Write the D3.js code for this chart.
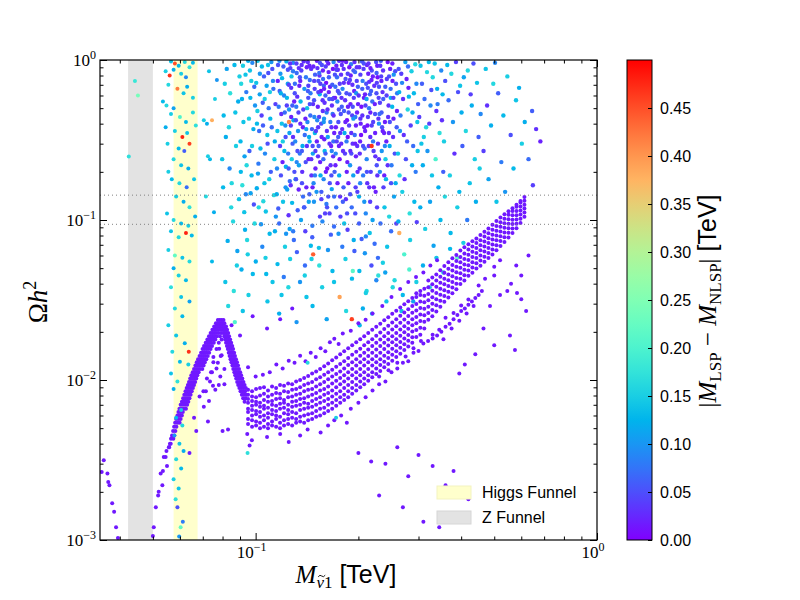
<!DOCTYPE html>
<html lang="en">
<head>
<meta charset="UTF-8">
<title>Relic density scan</title>
<script src="https://d3js.org/d3.v7.min.js"></script>
<style>
    html, body { margin: 0; padding: 0; background: #fff; }
    svg { display: block; }
    .serif { font-family: "Liberation Serif", "DejaVu Serif", serif; }
    .sans { font-family: "Liberation Sans", Arial, sans-serif; }
</style>
</head>
<body>
<svg id="chart" width="800" height="600"></svg>
<script>
// funnel regions and relic density band, TeV / Omega h^2
const zFunnel = [0.0423, 0.05];
const higgsFunnel = [0.0575, 0.0676];
const relicBounds = [0.094, 0.143];

const xDecades = [0.1, 1];
const yDecades = [0.001, 0.01, 0.1, 1];
const cTicks = [0, 0.05, 0.1, 0.15, 0.2, 0.25, 0.3, 0.35, 0.4, 0.45];
const cMax = 0.5;

// mass splitting of the purple annihilation band (nearly degenerate)
const bandSplit = 0.015;

// hump near the Higgs funnel: [Omega h^2, M, M, ...] read row by row
const humpRows = [
    [.0237,.0775,.0785,.0795,.0805],
    [.0226,.0765,.0774,.0783,.0792,.0801,.081],
    [.0216,.0756,.0765,.0774,.0783,.0792,.0801,.081,.0819],
    [.0206,.0747,.0756,.0765,.0774,.0786,.0798,.0807,.0816,.0825],
    [.0197,.0738,.0747,.0756,.0765,.0777,.0792,.0804,.0813,.0822,.0831],
    [.0188,.073,.0739,.0748,.0757,.077,.0786,.0809,.0818,.0827,.0836],
    [.0179,.0722,.0731,.074,.0749,.0762,.0795,.0814,.0823,.0832,.0842],
    [.0171,.0714,.0723,.0732,.0741,.0754,.078,.0819,.0829,.0838,.0848],
    [.0163,.0706,.0715,.0724,.0733,.0745,.0824,.0834,.0844,.0854],
    [.0156,.0699,.0708,.0717,.0726,.0738,.0768,.0829,.0839,.0849,.0859],
    [.0148,.0692,.0701,.071,.0719,.0731,.0834,.0844,.0854,.0865],
    [.0141,.0685,.0694,.0703,.0712,.0724,.079,.0839,.0849,.086,.087],
    [.0135,.0678,.0687,.0696,.0705,.0717,.0844,.0855,.0866,.0876],
    [.0129,.0672,.0681,.069,.0699,.071,.0752,.0849,.086,.0871,.0882],
    [.0123,.0666,.0675,.0684,.0693,.0704,.0855,.0866,.0877,.0888],
    [.0117,.066,.0669,.0678,.0687,.0698,.081,.086,.0871,.0882,.0894],
    [.0112,.0654,.0663,.0672,.0681,.074,.0866,.0877,.0889,.0901],
    [.0107,.0648,.0657,.0666,.0675,.0871,.0883,.0895,.0907],
    [.0102,.0643,.0652,.0661,.067,.072,.0877,.0889,.0901,.0914],
    [.0097,.0638,.0647,.0656,.0665,.0883,.0895,.0908,.0921],
    [.0093,.0633,.0642,.0651,.066,.078,.0889,.0902,.0915,.0928],
    [.0089,.0628,.0637,.0646,.0655,.0896,.0909,.0922,.0936],
    [.0085,.0623,.0632,.0641,.065,.0703,.0903,.0917,.0931],
    [.0081,.0618,.0627,.0636,.0645,.0911,.0925,.0939],
    [.0077,.0613,.0622,.0631,.064,.0919,.0934],
    [.0073,.0608,.0617,.0626,.0635,.0928],
    [.007,.0603,.0612,.0621,.063],
    [.0066,.0598,.0607,.0616,.0625],
    [.0063,.0594,.0603,.0612],
    [.006,.059,.0599,.0608],
    [.0057,.0585,.0594,.0603],
    [.0054,.0581,.059,.0599],
    [.0051,.0577,.0586],
    [.0048,.0573,.0582],
    [.0045,.0569,.0578],
    [.0043,.0565,.0574],
    [.004,.0561],
    [.0038,.0557]
];

// main annihilation band: [M, Omega h^2, Omega h^2, ...] read column by column
const bandColumns = [
    [.095,.0053,.0057,.0063,.0066,.0072,.0076,.0081,.0087],
    [.0976,.0051,.0056,.006,.0065,.0069,.0074,.0079,.0085],
    [.1003,.0052,.0055,.0061,.0064,.007,.0073,.0078,.0088],
    [.103,.005,.0054,.0059,.0063,.0068,.0072,.008,.0089],
    [.1058,.0051,.0056,.006,.0066,.0069,.0075,.0082,.009],
    [.1087,.005,.0053,.0058,.0062,.0067,.0073,.0079,.0086],
    [.1117,.0052,.0055,.0061,.0065,.007,.0074,.0081,.0091],
    [.1148,.0051,.0057,.006,.0064,.0069,.0076,.0083,.0089],
    [.1179,.005,.0054,.0059,.0066,.0071,.0077,.0082,.0093],
    [.1211,.0052,.0056,.0062,.0067,.0072,.0075,.0085,.0092],
    [.1245,.0053,.0057,.0061,.0065,.007,.0078,.0084,.0095],
    [.1279,.0052,.0058,.0063,.0068,.0073,.0079,.0087,.0094],
    [.1314,.0054,.0057,.0062,.0069,.0074,.0081,.0088,.0098],
    [.135,.0055,.0059,.0065,.007,.0076,.0082,.009,.01],
    [.1387,.0054,.006,.0066,.0072,.0077,.0085,.0093,.0103],
    [.1425,.0056,.0061,.0067,.0071,.0079,.0087,.0095,.0106],
    [.1464,.0057,.0062,.0068,.0074,.0081,.0088,.0097,.011],
    [.1504,.0059,.0064,.007,.0076,.0083,.0091,.0101,.0113],
    [.1545,.006,.0066,.0072,.0078,.0086,.0094,.0104,.0117],
    [.1588,.0062,.0067,.0074,.0081,.0088,.0097,.0108,.0122],
    [.1631,.0064,.007,.0076,.0083,.0091,.0101,.0112,.0127],
    [.1676,.0066,.0072,.0079,.0086,.0095,.0105,.0116,.0133],
    [.1722,.0069,.0075,.0082,.009,.0099,.0109,.0121,.0138],
    [.1769,.0072,.0078,.0085,.0094,.0103,.0113,.0126,.0145],
    [.1817,.0075,.0081,.0089,.0098,.0107,.0118,.0131,.0151],
    [.1867,.0078,.0085,.0093,.0102,.0112,.0124,.0137,.0158],
    [.1918,.0082,.0089,.0097,.0107,.0117,.0129,.0144,.0165],
    [.1971,.0086,.0093,.0102,.0112,.0123,.0135,.015,.0172],
    [.2025,.009,.0098,.0107,.0117,.0129,.0142,.0157,.018],
    [.208,.0094,.0102,.0112,.0123,.0135,.0148,.0165,.0188],
    [.2137,.0099,.0107,.0117,.0129,.0141,.0155,.0172,.0197],
    [.2196,.0104,.0112,.0123,.0135,.0148,.0163,.018,.0206],
    [.2256,.0109,.0118,.0129,.0141,.0155,.0171,.0189,.0215],
    [.2318,.0114,.0124,.0135,.0148,.0163,.0179,.0198,.0225],
    [.2381,.012,.013,.0142,.0156,.0171,.0188,.0208,.0236],
    [.2446,.0126,.0137,.0149,.0164,.0179,.0197,.0218,.0247],
    [.2513,.0132,.0144,.0157,.0172,.0188,.0207,.0229,.0259],
    [.2582,.0139,.0151,.0165,.018,.0197,.0217,.024,.0271],
    [.2653,.0146,.0159,.0173,.0189,.0207,.0228,.0252,.0284],
    [.2726,.0154,.0167,.0182,.0199,.0217,.0239,.0264,.0297],
    [.28,.0162,.0176,.0191,.0209,.0228,.0251,.0277,.0311],
    [.2877,.0171,.0185,.0201,.022,.024,.0263,.029,.0325],
    [.2956,.0186,.0205,.0226,.0248,.0272,.0299,.033,.0349],
    [.3037,.0192,.0212,.0234,.0257,.0282,.031,.034,.036],
    [.312,.021,.0231,.0254,.0279,.0306,.0336,.0372],
    [.3205,.0238,.0262,.0287,.0315,.0345,.038,.0418],
    [.3293,.025,.0274,.03,.0329,.0361,.0396,.0437],
    [.3383,.0268,.0293,.032,.035,.0382,.0418,.0457],
    [.3476,.0287,.0313,.0341,.0372,.0405,.0442,.0485],
    [.3571,.0308,.0335,.0364,.0396,.043,.0468,.0515],
    [.3669,.0328,.0356,.0387,.042,.0456,.0495,.0545],
    [.377,.0348,.0378,.041,.0445,.0483,.0524,.0576],
    [.3873,.0369,.04,.0434,.0471,.0511,.0554,.0605],
    [.3979,.0398,.043,.0465,.0503,.0544,.0588,.0645],
    [.4088,.0418,.0452,.0488,.0528,.0571,.0617,.0675],
    [.42,.0448,.0483,.0521,.0562,.0606,.0653,.0705],
    [.4315,.0468,.0505,.0545,.0588,.0634,.0683,.0737],
    [.4433,.0498,.0537,.0578,.0622,.0669,.0719,.0766],
    [.4555,.0518,.0558,.0601,.0647,.0696,.0748,.0805],
    [.468,.0548,.059,.0635,.0683,.0734,.0788,.0845],
    [.4808,.0578,.0622,.0669,.0718,.077,.0826,.0885],
    [.494,.0608,.0654,.0703,.0755,.081,.0868,.0935],
    [.5075,.0648,.0696,.0747,.0801,.0858,.0918,.0985],
    [.5214,.0688,.0738,.0791,.0847,.0906,.0968,.1035],
    [.5357,.0728,.078,.0835,.0893,.0954,.1018,.1085],
    [.5504,.0778,.0832,.0889,.0949,.1012,.1078,.1135],
    [.5655,.0828,.0884,.0943,.1005,.107,.1138,.1185],
    [.581,.0888,.0946,.1007,.1071,.1138,.1208,.1245],
    [.5969,.0958,.1018,.1081,.1147,.1216,.1288,.1315],
    [.613,.1048,.1112,.1178,.1247,.1318,.1392]
];

// sparse nearly degenerate points around the band: [M, Omega h^2]
const bandScatter = [
    [.0518,.0019],[.0527,.0026],[.0533,.0022],[.0545,.0033],[.055,.0029],[.0558,.0038],[.0564,.004],[.0538,.0033],
    [.0535,.0027],[.052,.002],[.051,.0016],[.0503,.0012],[.05,.00106],[.0548,.0036],[.0571,.0044],
    [.0715,.0085],[.075,.0092],[.081,.0094],[.0685,.0079],[.0705,.0068],[.073,.0074],[.066,.0058],[.067,.0048],
    [.0725,.0055],[.08,.0048],[.083,.0049],[.0945,.0046],[.0975,.0042],[.064,.0035],[.096,.0039],[.0745,.0112],
    [.0775,.0128],[.0735,.0098],[.0788,.0105],[.0762,.0087],[.0795,.0143],[.0752,.0139],[.0782,.0157],[.0768,.0118],
    [.108,.0044],[.118,.0046],[.125,.0041],[.135,.0045],[.142,.0049],[.155,.0047],[.163,.0052],[.17,.0056],
    [.178,.006],[.185,.0054],[.19,.0066],[.2,.0072],[.21,.0078],[.22,.0086],[.23,.0094],[.24,.0098],
    [.25,.0112],[.26,.0118],[.27,.0128],[.28,.0131],[.29,.0148],[.3,.0152],[.31,.0169],[.33,.0192],[.345,.0206],
    [.36,.0245],[.38,.0262],[.4,.0292],[.42,.0318],[.45,.039],[.47,.043],[.5,.051],[.52,.056],[.2,.0035],
    [.218,.0031],[.24,.003],[.26,.0038],[.28,.0025],[.3,.0034],[.33,.0029],[.36,.0022],[.38,.0027],
    [.42,.0018],[.23,.0019],[.27,.0016],[.31,.0013],[.345,.0012],[.56,.04],[.58,.052],[.6,.045],[.63,.06],
    [.52,.034],[.5,.045],[.583,.035],[.62,.027],[.546,.036],[.486,.029],[.556,.019],[.575,.0154],[.465,.021],
    [.6,.032],[.5,.0165],[.44,.0145],[.41,.0125],[.395,.011],[.095,.012],[.1,.0105],[.105,.0108],[.11,.0112],
    [.115,.0125],[.12,.0118],[.125,.0132],[.13,.0128],[.135,.0142],[.14,.0131],[.145,.0148],[.15,.0139],[.155,.0158],
    [.16,.0151],[.165,.0172],[.17,.0181],[.175,.0168],[.18,.0195],[.19,.0203],[.2,.0226],[.21,.0238],[.085,.022],
    [.09,.019],[.098,.025],[.108,.021],[.118,.024],[.128,.028],[.0359,.00315],[.0354,.00266],[.0368,.0026],
    [.037,.0023],[.0373,.0022],[.038,.0017],[.0385,.0015],[.039,.0012],[.0395,.00103],
    [.32,.0175],[.33,.0182],[.34,.019],[.35,.02],[.36,.0215],[.37,.0225],[.38,.024],[.39,.0255],[.4,.027],
    [.41,.028],[.42,.0295],[.43,.031],[.44,.0325],[.45,.034],[.46,.036],[.355,.018],[.375,.021],[.395,.0235],
    [.415,.026],[.435,.029],[.22,.026],[.235,.029],[.25,.033],[.265,.037],[.28,.041],[.295,.044],[.31,.047],
    [.325,.052],[.34,.056],[.23,.0105],[.245,.0115],[.26,.0128],[.275,.014],[.29,.0158],[.305,.0175]
];

// [M, Omega h^2, |M_LSP - M_NLSP|] inside and around the Higgs funnel
const higgsPts = [
    [.0565,.98,.14],[.058,.95,.45],[.0595,.92,.13],[.062,.97,.16],[.0545,.85,.15],[.056,.8,.47],[.0575,.87,.12],
    [.0605,.82,.15],[.0625,.78,.09],[.064,.9,.17],[.0655,.96,.13],[.0555,.7,.16],[.059,.66,.42],[.0615,.62,.14],
    [.063,.68,.12],[.0655,.58,.15],[.0535,.55,.13],[.0548,.52,.16],[.0575,.5,.11],[.0565,.46,.15],[.06,.44,.2],
    [.0625,.41,.13],[.0655,.47,.16],[.0545,.38,.12],[.058,.36,.15],[.061,.33,.48],[.063,.35,.14],[.0668,.39,.17],
    [.0552,.3,.15],[.0595,.28,.13],[.0618,.27,.06],[.064,.3,.46],[.0575,.24,.16],[.0605,.22,.14],[.0635,.21,.12],
    [.0555,.2,.15],[.0568,.18,.13],[.0598,.17,.16],[.0628,.16,.07],[.066,.18,.14],[.0585,.14,.15],[.0615,.13,.12],
    [.064,.12,.17],[.055,.11,.14],[.0575,.1,.16],[.0605,.095,.13],[.0635,.092,.15],[.0665,.105,.12],[.0565,.085,.14],
    [.0595,.078,.16],[.0625,.083,.48],[.065,.08,.13],[.0555,.065,.15],[.058,.06,.22],[.061,.058,.14],[.064,.055,.16],
    [.0575,.05,.12],[.0595,.045,.15],[.0625,.042,.13],[.0565,.038,.17],[.0605,.033,.14],[.064,.031,.11],[.058,.028,.16],
    [.061,.025,.13],[.0555,.022,.15],[.0585,.019,.14],[.0637,.015,.47],[.062,.017,.12],[.057,.015,.16],[.06,.013,.13],
    [.0635,.0125,.15],[.0565,.011,.14],[.059,.0098,.17],[.0575,.0088,.12],[.0605,.0065,.15],[.0585,.0058,.13],
    [.061,.0052,.16],[.0578,.0045,.1],[.0598,.004,.14],[.0615,.0036,.12],[.0585,.0032,.16],[.0605,.0028,.13],
    [.0575,.0024,.15],[.0595,.0021,.14],[.0583,.0018,.17],[.059,.0016,.05],[.0603,.0012,.22],[.0597,.00105,.1],
    [.0612,.0013,.08],[.0425,.249,.17],[.0443,.74,.18],[.0452,.6,.24],[.0705,.42,.15],[.072,.4,.12],
    [.0745,.42,.38],[.0735,.24,.13],[.0725,.25,.15],[.0755,.112,.12],[.077,.75,.1],[.076,.57,.15],[.142,.0128,.16],
    [.172,.0058,.15],[.0947,.0035,.17],[.073,.85,.14],[.0715,.14,.16],[.0745,.055,.13]
];

// [M, Omega h^2, |M_LSP - M_NLSP|] in the upper cloud, left part
const cloudLeft = [
    [.0812,.71,.15],[.0867,.93,.13],[.0835,.38,.16],[.0889,.55,.12],[.0798,.24,.14],[.0851,.17,.16],[.0823,.88,.11],
    [.0876,.29,.15],[.0842,.62,.17],[.0806,.45,.13],[.0894,.135,.14],[.0859,.098,.16],[.0828,.074,.12],[.0881,.052,.15],
    [.0815,.041,.14],[.0863,.036,.17],[.0839,.21,.09],[.0872,.47,.14],[.0818,.33,.12],[.0897,.79,.15],[.0848,.12,.16],
    [.0803,.16,.13],[.0884,.064,.11],[.0831,.029,.16],[.0869,.023,.2],
    [.0934,.81,.14],[.0912,.57,.12],[.0978,.96,.09],[.0956,.43,.15],[.0903,.31,.13],[.0991,.68,.07],[.0941,.22,.16],
    [.0967,.147,.11],[.0918,.92,.15],[.0985,.37,.12],[.0926,.112,.14],[.0959,.27,.06],[.0907,.71,.16],[.0973,.19,.13],
    [.0948,.061,.15],[.0996,.52,.1],[.0931,.087,.12],[.0962,.86,.14],[.0914,.165,.17],[.0981,.046,.13],[.0939,.63,.08],
    [.0953,.034,.15],[.0921,.41,.14],[.0988,.125,.05],[.0944,.075,.16],[.0909,.049,.12],[.0976,.29,.15],[.0928,.25,.11],
    [.0965,.58,.13],[.0993,.095,.16],[.0917,.027,.14],[.0951,.99,.12],[.0936,.145,.09],[.0971,.74,.15],[.0905,.2,.13],
    [.1043,.91,.13],[.1127,.66,.07],[.1012,.48,.15],[.1089,.83,.05],[.1138,.31,.12],[.1065,.26,.09],[.1004,.72,.14],
    [.1112,.97,.1],[.1051,.39,.06],[.1096,.18,.15],[.1028,.61,.11],[.1143,.53,.04],[.1071,.113,.14],[.1019,.225,.08],
    [.1104,.43,.13],[.1058,.79,.06],[.1131,.143,.16],[.1037,.094,.1],[.1082,.34,.14],[.1008,.158,.12],[.1119,.88,.05],
    [.1063,.57,.15],[.1046,.068,.09],[.1099,.082,.13],[.1024,.36,.07],[.1135,.24,.15],[.1077,.69,.11],[.1014,.99,.14],
    [.1108,.2,.06],[.1053,.131,.16],[.1092,.5,.08],[.1033,.28,.13],[.1146,.105,.1],[.1069,.058,.15],[.1001,.055,.12],
    [.1124,.74,.09],[.1041,.45,.04],[.1087,.93,.14],[.1016,.195,.11],[.1115,.38,.07],[.1061,.17,.14],[.1029,.82,.1],
    [.1101,.63,.15],[.1074,.046,.13],[.1049,.54,.06],[.1139,.085,.12],[.1021,.12,.16],[.1084,.3,.05],[.1009,.4,.13],
    [.1121,.041,.14],
    [.1163,.93,.05],[.1242,.71,.11],[.1189,.46,.03],[.1287,.85,.08],[.1214,.27,.13],[.1176,.64,.06],[.1268,.39,.04],
    [.1231,.98,.12],[.1155,.21,.09],[.1297,.55,.02],[.1203,.13,.14],[.1259,.175,.07],[.1182,.82,.1],[.1224,.33,.05],
    [.1276,.24,.15],[.1168,.51,.08],[.1249,.107,.03],[.1195,.77,.13],[.1283,.3,.06],[.1211,.6,.09],[.1158,.36,.14],
    [.1264,.89,.04],[.1237,.155,.11],[.1172,.095,.07],[.1291,.42,.12],[.1219,.068,.15],[.1186,.19,.05],[.1253,.49,.1],
    [.1161,.74,.02],[.1279,.128,.13],[.1206,.91,.06],[.1245,.26,.08],[.1193,.4,.14],[.1271,.67,.03],[.1228,.082,.1],
    [.1153,.145,.12],[.1299,.2,.05],[.1217,.47,.07],[.1262,.057,.15],[.1179,.29,.04],[.1235,.58,.13],[.1288,.96,.09],
    [.1199,.23,.02],[.1256,.35,.11],[.1165,.118,.06],[.1274,.79,.14],[.1209,.044,.08],[.1243,.87,.05],[.1185,.62,.12],
    [.1267,.165,.03],[.1222,.39,.1],[.1159,.053,.13],[.1294,.075,.07],[.1201,.31,.15],[.1251,.7,.04],[.1174,.99,.09],
    [.1281,.52,.06],[.1226,.215,.12],[.1191,.034,.14],[.1258,.088,.11]
];

// upper cloud, dense centre
const cloudCentre = [
    [.1317,.95,.04],[.1448,.62,.08],[.1376,.38,.02],[.1493,.81,.06],[.1339,.22,.11],[.1422,.97,.03],[.1354,.55,.13],
    [.1469,.29,.05],[.1303,.71,.07],[.1408,.16,.02],[.1486,.44,.09],[.1361,.86,.04],[.1434,.33,.12],[.1328,.115,.06],
    [.1457,.19,.03],[.1389,.66,.1],[.1312,.42,.05],[.1476,.91,.02],[.1347,.26,.08],[.1415,.5,.14],[.1398,.085,.04],
    [.1441,.75,.07],[.1324,.59,.03],[.1482,.13,.1],[.1367,.17,.05],[.1429,.24,.02],[.1306,.31,.09],[.1462,.37,.06],
    [.1383,.98,.03],[.1451,.069,.13],[.1335,.47,.04],[.1404,.78,.08],[.1497,.21,.02],[.1358,.1,.11],[.1426,.58,.05],
    [.1319,.83,.07],[.1473,.53,.03],[.1372,.29,.12],[.1437,.145,.06],[.1343,.69,.02],[.1418,.41,.09],[.1489,.66,.04],
    [.1309,.18,.14],[.1395,.052,.07],[.1454,.88,.03],[.1331,.36,.1],[.1402,.23,.05],[.1466,.092,.08],[.1351,.74,.02],
    [.1431,.13,.11],[.1379,.49,.04],[.1321,.063,.06],[.1491,.35,.13],[.1364,.93,.03],[.1446,.45,.07],[.1326,.27,.05],
    [.1412,.9,.02],[.1478,.17,.09],[.1386,.12,.04],[.1439,.31,.12],[.1315,.51,.08],[.1458,.057,.15],[.1369,.2,.03],
    [.1423,.64,.06],[.1349,.041,.1],[.1484,.74,.04],[.1393,.34,.07],[.1337,.155,.02],[.1471,.26,.11],[.1409,.033,.14],
    [.1517,.89,.03],[.1643,.57,.06],[.1589,.32,.02],[.1692,.97,.09],[.1534,.44,.04],[.1621,.21,.01],[.1576,.76,.07],
    [.1668,.38,.03],[.1508,.15,.1],[.1652,.68,.02],[.1563,.93,.05],[.1614,.47,.08],[.1687,.25,.03],[.1541,.61,.12],
    [.1597,.11,.04],[.1636,.84,.02],[.1529,.29,.06],[.1673,.52,.03],[.1582,.18,.09],[.1609,.72,.01],[.1556,.4,.05],
    [.1698,.14,.07],[.1512,.99,.02],[.1627,.33,.11],[.1571,.56,.03],[.1661,.081,.06],[.1545,.23,.02],[.1604,.91,.04],
    [.1681,.46,.08],[.1538,.8,.03],[.1593,.27,.13],[.1649,.17,.05],[.1521,.51,.02],[.1677,.7,.06],[.1569,.098,.09],
    [.1617,.36,.03],[.1553,.64,.01],[.1689,.31,.07],[.1502,.36,.04],[.1632,.95,.02],[.1586,.43,.1],[.1658,.22,.03],
    [.1527,.74,.05],[.1612,.126,.08],[.1574,.86,.02],[.1695,.58,.04],[.1549,.19,.12],[.1601,.6,.06],[.1664,.29,.02],
    [.1532,.067,.14],[.1624,.49,.03],[.1579,.24,.07],[.1684,.88,.01],[.1515,.42,.09],[.1646,.11,.04],[.1561,.33,.02],
    [.1639,.78,.06],[.1592,.54,.03],[.1671,.156,.11],[.1543,.96,.05],[.1606,.2,.02],[.1655,.41,.08],[.1523,.25,.03],
    [.1584,.69,.06],[.1679,.048,.13],[.1558,.135,.04],[.1629,.065,.1],[.1566,.038,.15],[.1699,.35,.02],[.1536,.83,.07],
    [.1724,.92,.02],[.1887,.61,.05],[.1793,.37,.03],[.1956,.84,.07],[.1762,.24,.01],[.1918,.45,.04],[.1841,.97,.02],
    [.1735,.55,.09],[.1984,.29,.03],[.1809,.16,.06],[.1873,.72,.02],[.1747,.41,.05],[.1932,.19,.11],[.1779,.81,.03],
    [.1861,.33,.01],[.1712,.68,.07],[.1995,.53,.02],[.1827,.26,.04],[.1903,.94,.08],[.1768,.14,.03],[.1944,.64,.02],
    [.1815,.48,.06],[.1756,.99,.03],[.1891,.22,.1],[.1728,.31,.04],[.1967,.39,.02],[.1834,.76,.05],[.1785,.58,.03],
    [.1912,.12,.07],[.1741,.87,.02],[.1978,.74,.04],[.1852,.42,.01],[.1703,.2,.06],[.1924,.3,.03],[.1797,.66,.09],
    [.1869,.17,.02],[.1753,.49,.05],[.1948,.97,.03],[.1821,.35,.12],[.1772,.105,.04],[.1896,.53,.02],[.1731,.78,.07],
    [.1989,.2,.03],[.1846,.62,.05],[.1718,.38,.02],[.1935,.86,.06],[.1803,.27,.03],[.1881,.9,.01],[.1764,.71,.04],
    [.1959,.44,.08],[.1838,.135,.03],[.1709,.58,.02],[.1907,.26,.05],[.1789,.93,.03],[.1971,.62,.1],[.1856,.23,.02],
    [.1745,.33,.06],[.1921,.7,.03],[.1817,.095,.14],[.1878,.39,.04],[.1737,.17,.02],[.1951,.34,.07],[.1829,.56,.03],
    [.1776,.46,.05],[.1899,.8,.02],[.1716,.26,.09],[.1963,.16,.04],[.1864,.51,.02],[.1758,.62,.06],[.1938,.075,.12],
    [.1811,.88,.03],[.1892,.145,.05],[.1749,.082,.1],[.1982,.47,.02],[.1833,.057,.15],[.1781,.3,.03],[.1915,.043,.13],
    [.1722,.12,.07],[.1958,.11,.05],[.1859,.087,.04],
    [.2012,.9,.03],[.2178,.64,.06],[.2093,.36,.02],[.2254,.97,.05],[.2041,.51,.01],[.2216,.27,.04],[.2137,.82,.02],
    [.2065,.19,.08],[.2289,.43,.03],[.2108,.71,.05],[.2023,.31,.02],[.2197,.55,.07],[.2152,.16,.03],[.2276,.78,.01],
    [.2071,.88,.04],[.2239,.35,.02],[.2115,.24,.09],[.2004,.6,.03],[.2264,.22,.05],[.2168,.47,.02],[.2049,.98,.06],
    [.2226,.69,.03],[.2126,.39,.01],[.2081,.13,.1],[.2293,.58,.04],[.2031,.4,.02],[.2189,.86,.05],[.2145,.29,.03],
    [.2058,.74,.08],[.2247,.15,.02],[.2098,.52,.04],[.2017,.21,.03],[.2271,.92,.02],[.2162,.61,.06],[.2036,.34,.01],
    [.2209,.41,.04],[.2119,.93,.02],[.2086,.28,.07],[.2282,.3,.03],[.2131,.67,.05],[.2009,.14,.12],[.2234,.53,.02],
    [.2174,.2,.04],[.2054,.45,.03],[.2261,.83,.06],[.2102,.11,.09],[.2185,.75,.02],[.2027,.81,.04],[.2242,.25,.03],
    [.2149,.5,.08],[.2076,.58,.02],[.2298,.68,.05],[.2123,.17,.03],[.2201,.1,.11],[.2044,.076,.06],[.2268,.12,.04],
    [.2159,.083,.14],[.2089,.062,.1],[.2231,.071,.07],[.2013,.048,.13],[.2184,.052,.05],[.2114,.036,.16],[.2257,.042,.09],
    [.2061,.028,.12],[.2141,.95,.03]
];

// extra points in the densest part of the cloud
const cloudCore = [
    [.1234,.52,.04],[.1271,.44,.02],[.1302,.62,.05],[.1338,.89,.03],[.1366,.27,.06],[.1399,.43,.02],[.1427,.69,.04],
    [.1455,.24,.03],[.1483,.56,.05],[.1511,.31,.02],[.1547,.71,.04],[.1573,.48,.03],[.1602,.26,.06],[.1638,.63,.02],
    [.1667,.19,.05],[.1692,.45,.03],[.1726,.87,.04],[.1754,.29,.02],[.1788,.51,.06],[.1813,.72,.03],[.1849,.2,.02],
    [.1872,.47,.05],[.1906,.35,.03],[.1939,.58,.04],[.1967,.25,.02],[.1993,.68,.06],[.2027,.43,.03],[.2064,.29,.05],
    [.2091,.61,.02],[.2133,.44,.04],[.2167,.33,.03],[.2205,.79,.02],[.2238,.46,.05],[.2273,.19,.03],[.2312,.54,.04],
    [.2356,.36,.02],[.2398,.68,.06],[.2437,.22,.03],[.2472,.41,.05],[.2518,.74,.02],
    [.1249,.21,.06],[.1287,.33,.03],[.1313,.18,.05],[.1352,.4,.02],[.1377,.14,.07],[.1413,.29,.03],[.1441,.53,.05],
    [.1468,.16,.02],[.1497,.27,.04],[.1524,.38,.03],[.1558,.15,.06],[.1587,.66,.02],[.1619,.12,.05],[.1646,.3,.03],
    [.1679,.57,.04],[.1713,.22,.02],[.1741,.64,.05],[.1769,.35,.03],[.1801,.13,.06],[.1832,.41,.02],[.1861,.82,.04],
    [.1894,.27,.03],[.1925,.51,.05],[.1958,.3,.02],[.1986,.15,.04],[.2019,.26,.03],[.2053,.66,.06],[.2082,.38,.02],
    [.2118,.2,.05],[.2151,.73,.03],[.2188,.39,.04],[.2221,.16,.02],[.2259,.62,.05],[.2296,.24,.03],[.2338,.47,.06],
    [.2381,.19,.02],[.2419,.6,.04],[.2457,.35,.03],[.2493,.17,.05],[.2534,.43,.02],
    [.1224,.16,.1],[.1319,.23,.09],[.1407,.37,.11],[.1492,.19,.08],[.1583,.41,.1],[.1671,.27,.09],[.1757,.19,.12],
    [.1846,.31,.08],[.1933,.43,.1],[.2024,.17,.09],[.2113,.57,.11],[.2208,.31,.08],[.2297,.4,.1],[.2391,.29,.09],
    [.2488,.58,.12],[.1262,.95,.03],[.1348,.78,.05],[.1437,.92,.02],[.1526,.63,.04],[.1618,.99,.03],[.1707,.81,.05],
    [.1797,.99,.02],[.1889,.75,.04],[.1979,.9,.03],[.2074,.95,.05],[.2169,.89,.02],[.2265,.72,.04],[.2362,.86,.03],
    [.2459,.79,.05],[.1389,.12,.06],[.1543,.105,.04],[.1697,.091,.07],[.1853,.11,.05],[.2009,.095,.06],[.2165,.13,.04],
    [.2321,.095,.07],[.1288,.085,.08],[.1465,.078,.06],[.1632,.14,.05],[.1794,.068,.08],[.1947,.064,.06],[.2103,.079,.09],
    [.2282,.058,.07]
];

// upper cloud, sparser right part and lower fringe
const cloudRight = [
    [.2318,.92,.03],[.2486,.66,.07],[.2392,.41,.02],[.2563,.85,.05],[.2341,.27,.1],[.2527,.33,.03],[.2437,.97,.01],
    [.2365,.57,.06],[.2594,.48,.02],[.2409,.18,.13],[.2332,.79,.04],[.2501,.22,.08],[.2451,.52,.03],[.2578,.71,.05],
    [.2378,.35,.02],[.2543,.14,.11],[.2423,.76,.04],[.2306,.46,.07],[.2515,.95,.02],[.2469,.29,.12],[.2354,.63,.03],
    [.2589,.38,.06],[.2401,.24,.15],[.2532,.58,.04],[.2312,.2,.09],[.2478,.88,.02],[.2385,.12,.14],[.2556,.26,.05],
    [.2444,.44,.03],[.2327,.99,.06],[.2512,.51,.13],[.2369,.16,.04],[.2597,.62,.08],[.2415,.31,.02],[.2538,.81,.1],
    [.2461,.105,.16],[.2347,.38,.05],[.2571,.17,.12],[.2428,.068,.14],[.2494,.085,.07],[.2359,.054,.15],[.2583,.095,.04],
    [.2397,.047,.11],[.2521,.038,.16],[.2336,.74,.02],
    [.2624,.88,.05],[.2811,.59,.13],[.2716,.34,.03],[.2935,.94,.16],[.2657,.45,.08],[.2873,.22,.12],[.2768,.76,.02],
    [.2612,.26,.14],[.2992,.53,.06],[.2745,.97,.11],[.2846,.39,.04],[.2689,.15,.15],[.2958,.71,.09],[.2731,.18,.03],
    [.2634,.63,.12],[.2894,.29,.07],[.2789,.49,.16],[.2671,.82,.04],[.2917,.13,.13],[.2803,.67,.02],[.2648,.36,.1],
    [.2976,.41,.14],[.2755,.24,.05],[.2862,.85,.15],[.2703,.57,.03],[.2943,.2,.08],[.2826,.11,.17],[.2619,.098,.12],
    [.2778,.31,.06],[.2908,.62,.13],[.2685,.72,.09],[.2835,.075,.15],[.2965,.097,.04],[.2724,.061,.2],[.2881,.47,.12],
    [.2641,.19,.16],[.2795,.91,.07],[.2983,.27,.14],
    [.3042,.92,.14],[.3271,.65,.05],[.3158,.38,.16],[.3497,.86,.09],[.3089,.22,.12],[.3384,.48,.03],[.3216,.97,.13],
    [.3563,.31,.15],[.3124,.57,.07],[.3431,.16,.12],[.3302,.78,.16],[.3015,.44,.04],[.3529,.61,.13],[.3187,.27,.1],
    [.3346,.95,.14],[.3071,.71,.06],[.3458,.35,.17],[.3243,.13,.11],[.3592,.74,.05],[.3109,.33,.15],[.3412,.53,.08],
    [.3285,.19,.14],[.3036,.12,.12],[.3514,.42,.03],[.3177,.84,.16],[.3367,.24,.2],[.3253,.52,.09],[.3479,.1,.13],
    [.3138,.088,.15],[.3321,.069,.11],[.3545,.2,.06],[.3059,.3,.14],[.3402,.66,.12],[.3226,.4,.04],[.3584,.14,.16],
    [.3642,.93,.13],[.3917,.63,.05],[.4183,.86,.16],[.3785,.41,.1],[.4451,.72,.14],[.4034,.29,.06],[.3706,.19,.15],
    [.4297,.52,.12],[.3862,.97,.04],[.4128,.36,.16],[.4562,.46,.09],[.3951,.15,.13],[.3674,.56,.07],[.4385,.24,.15],
    [.4072,.78,.11],[.3823,.26,.03],[.4239,.17,.14],[.4498,.33,.06],[.3744,.82,.16],[.4011,.47,.12],[.4346,.95,.05],
    [.3898,.12,.15],[.4167,.1,.08],[.3725,.083,.13],[.4419,.13,.12],[.3972,.69,.14],[.4265,.61,.04],[.4532,.21,.15],
    [.4721,.88,.14],[.5134,.62,.06],[.4893,.39,.12],[.5462,.79,.15],[.4652,.27,.04],[.5318,.45,.13],[.5027,.96,.09],
    [.5791,.56,.14],[.4812,.18,.11],[.5587,.34,.05],[.6142,.41,.12],[.4967,.71,.16],[.5245,.23,.08],[.6455,.48,.06],
    [.5694,.21,.13],[.4765,.52,.03],[.6023,.3,.15],[.5381,.15,.1],[.6632,.37,.03],[.5912,.67,.12],[.6489,.165,.04],
    [.5076,.13,.14],[.6301,.24,.07],[.6825,.31,.02],
    [.1083,.031,.14],[.1172,.026,.12],[.1247,.038,.16],[.1318,.023,.1],[.1393,.045,.15],[.1468,.029,.13],[.1536,.052,.17],
    [.1615,.024,.11],[.1697,.041,.14],[.1762,.033,.39],[.1841,.027,.16],[.1926,.048,.21],[.2017,.022,.13],[.2103,.035,.15],
    [.2194,.026,.12],[.2287,.045,.17],[.2416,.031,.14],[.2553,.042,.16],[.2698,.034,.13],[.2819,.049,.2],[.2957,.041,.15],
    [.3092,.052,.12],[.3238,.038,.17],[.3386,.058,.14],[.3547,.047,.16],[.3712,.066,.13],[.3894,.058,.22],[.4061,.072,.15],
    [.2674,.027,.14],[.2895,.031,.11],[.1474,.061,.44],[.2187,.29,.47],[.1252,.41,.41],[.2635,.083,.38],[.1913,.024,.46]
];

// matplotlib "rainbow" colormap
function rainbow(t) {
    const r = Math.min(1, Math.abs(2 * t - 0.5));
    const g = Math.sin(Math.PI * t);
    const b = Math.cos(Math.PI * t / 2);
    return d3.rgb(r * 255, g * 255, b * 255).formatHex();
}

const svg = d3.select("#chart");
const plotLeft = 100, plotRight = 597, plotTop = 60, plotBottom = 540;

const x = d3.scaleLog().domain([0.035, 1]).range([plotLeft, plotRight]);
const y = d3.scaleLog().domain([0.001, 1]).range([plotBottom, plotTop]);
const color = d3.scaleSequential(rainbow).domain([0, cMax]);

svg.append("clipPath").attr("id", "plot-clip")
    .append("rect")
    .attr("x", plotLeft).attr("y", plotTop)
    .attr("width", plotRight - plotLeft).attr("height", plotBottom - plotTop);

const plot = svg.append("g").attr("clip-path", "url(#plot-clip)");

// funnel bands
plot.append("rect")
    .attr("x", x(zFunnel[0])).attr("y", plotTop)
    .attr("width", x(zFunnel[1]) - x(zFunnel[0])).attr("height", plotBottom - plotTop)
    .attr("fill", "#e3e3e3");
plot.append("rect")
    .attr("x", x(higgsFunnel[0])).attr("y", plotTop)
    .attr("width", x(higgsFunnel[1]) - x(higgsFunnel[0])).attr("height", plotBottom - plotTop)
    .attr("fill", "#ffffcc");

// scatter: cloud first, then the band on top, funnel points last
const cloudPts = [].concat(cloudLeft, cloudCentre, cloudCore, cloudRight);
const humpPts = humpRows.flatMap(r => r.slice(1).map(m => [m, r[0], bandSplit]));
const bandPts = bandColumns.flatMap(c => c.slice(1).map(o => [c[0], o, bandSplit]));
const lowPts = []
    .concat(humpPts, bandPts)
    .concat(bandScatter.map(d => [d[0], d[1], bandSplit]))
    .concat(higgsPts);

function drawPoints(data, radius) {
    plot.append("g")
        .selectAll("circle")
        .data(data)
        .enter().append("circle")
        .attr("cx", d => x(d[0]))
        .attr("cy", d => y(d[1]))
        .attr("r", radius)
        .attr("fill", d => color(d[2]));
}
drawPoints(cloudPts, 2.2);
drawPoints(lowPts, 2);

// relic density bounds
plot.append("g")
    .selectAll("line")
    .data(relicBounds)
    .enter().append("line")
    .attr("x1", plotLeft).attr("x2", plotRight)
    .attr("y1", d => y(d)).attr("y2", d => y(d))
    .attr("stroke", "#808080")
    .attr("stroke-width", 1)
    .attr("stroke-dasharray", "1,3");

// ticks on all four sides, pointing inward
const xMinor = [0.04, 0.05, 0.06, 0.07, 0.08, 0.09, 0.2, 0.3, 0.4, 0.5, 0.6, 0.7, 0.8, 0.9];
const yMinor = [];
yDecades.slice(0, 3).forEach(dec => { for (let k = 2; k <= 9; k++) yMinor.push(dec * k); });

function addAxis(axis, transform) {
    const g = svg.append("g").attr("transform", transform).call(axis);
    g.select(".domain").remove();
    g.selectAll("line").attr("stroke", "#000");
    g.selectAll("text").remove();
}
[["axisBottom", `translate(0,${plotBottom})`], ["axisTop", `translate(0,${plotTop})`]].forEach(([fn, tr]) => {
    addAxis(d3[fn](x).tickValues(xDecades).tickSize(-7), tr);
    addAxis(d3[fn](x).tickValues(xMinor).tickSize(-3.5), tr);
});
[["axisLeft", `translate(${plotLeft},0)`], ["axisRight", `translate(${plotRight},0)`]].forEach(([fn, tr]) => {
    addAxis(d3[fn](y).tickValues(yDecades).tickSize(-7), tr);
    addAxis(d3[fn](y).tickValues(yMinor).tickSize(-3.5), tr);
});

svg.append("rect")
    .attr("x", plotLeft).attr("y", plotTop)
    .attr("width", plotRight - plotLeft).attr("height", plotBottom - plotTop)
    .attr("fill", "none").attr("stroke", "#000").attr("stroke-width", 1.2);

// decade labels 10^n
function powerLabel(sel, value) {
    const e = Math.round(Math.log10(value));
    sel.append("tspan").text("10");
    sel.append("tspan").attr("dy", -7).attr("font-size", 12).text(e < 0 ? "\u2212" + (-e) : e);
}
xDecades.forEach(v => {
    svg.append("text").attr("class", "serif")
        .attr("x", x(v) - 4).attr("y", plotBottom + 18)
        .attr("text-anchor", "middle").attr("font-size", 17)
        .call(powerLabel, v);
});
yDecades.forEach(v => {
    svg.append("text").attr("class", "serif")
        .attr("x", plotLeft - 4).attr("y", y(v) + 6)
        .attr("text-anchor", "end").attr("font-size", 17)
        .call(powerLabel, v);
});

// axis titles
const xTitle = svg.append("text")
    .attr("x", 346).attr("y", 583)
    .attr("text-anchor", "middle").attr("font-size", 25);
xTitle.append("tspan").attr("class", "serif").attr("font-style", "italic").text("M");
xTitle.append("tspan").attr("class", "serif").attr("font-style", "italic")
    .attr("font-size", 17).attr("dy", 5).text("\u03bd");
xTitle.append("tspan").attr("class", "serif").attr("font-size", 17).text("1");
xTitle.append("tspan").attr("class", "sans").attr("dy", -5).text("\u00a0[TeV]");
// tilde accent over the nu, drawn as a small stroke above the measured glyph
const nuBox = xTitle.node().getExtentOfChar(1);
const tx = nuBox.x + nuBox.width / 2 + 1.5, ty = 576;
svg.append("path")
    .attr("d", `M${tx - 3.5},${ty + 0.8} q1.75,-2.6 3.5,-0.8 t3.5,-0.8`)
    .attr("fill", "none").attr("stroke", "#000").attr("stroke-width", 0.9);

const yTitle = svg.append("text")
    .attr("class", "serif")
    .attr("transform", "translate(47,302) rotate(-90)")
    .attr("text-anchor", "middle").attr("font-size", 27);
yTitle.append("tspan").text("\u03a9");
yTitle.append("tspan").attr("font-style", "italic").text("h");
yTitle.append("tspan").attr("font-size", 18).attr("dy", -11).text("2");

// colour bar
const cbX = 627, cbW = 25;
const cy = d3.scaleLinear().domain([0, cMax]).range([plotBottom, plotTop]);

const grad = svg.append("defs").append("linearGradient")
    .attr("id", "cbar").attr("x1", 0).attr("y1", 1).attr("x2", 0).attr("y2", 0);
d3.range(0, 1.0001, 0.05).forEach(t => {
    grad.append("stop").attr("offset", t).attr("stop-color", rainbow(t));
});
svg.append("rect")
    .attr("x", cbX).attr("y", plotTop).attr("width", cbW).attr("height", plotBottom - plotTop)
    .attr("fill", "url(#cbar)").attr("stroke", "#000").attr("stroke-width", 1);

const cAxis = svg.append("g").attr("transform", `translate(${cbX + cbW},0)`)
    .call(d3.axisRight(cy).tickValues(cTicks).tickSize(-4).tickPadding(8).tickFormat(d3.format(".2f")));
cAxis.select(".domain").remove();
cAxis.selectAll("line").attr("stroke", "#000");
cAxis.selectAll("text").attr("class", "sans").attr("font-size", 16).attr("fill", "#000");

const cTitle = svg.append("text")
    .attr("transform", "translate(716,301) rotate(-90)")
    .attr("text-anchor", "middle").attr("font-size", 25);
cTitle.append("tspan").attr("class", "serif").text("|");
cTitle.append("tspan").attr("class", "serif").attr("font-style", "italic").text("M");
cTitle.append("tspan").attr("class", "serif").attr("font-size", 17).attr("dy", 5).text("LSP");
cTitle.append("tspan").attr("class", "serif").attr("dy", -5).text(" \u2212 ");
cTitle.append("tspan").attr("class", "serif").attr("font-style", "italic").text("M");
cTitle.append("tspan").attr("class", "serif").attr("font-size", 17).attr("dy", 5).text("NLSP");
cTitle.append("tspan").attr("class", "serif").attr("dy", -5).text("|");
cTitle.append("tspan").attr("class", "sans").text("\u00a0[TeV]");

// legend
const legendItems = [
    { label: "Higgs Funnel", fill: "#ffffcc", stroke: "#f3f3c0" },
    { label: "Z Funnel", fill: "#e3e3e3", stroke: "#d6d6d6" }
];
const legend = svg.append("g").attr("transform", "translate(437,486)");
legendItems.forEach((item, i) => {
    legend.append("rect")
        .attr("x", 0).attr("y", i * 25)
        .attr("width", 34).attr("height", 13)
        .attr("fill", item.fill).attr("stroke", item.stroke);
    legend.append("text").attr("class", "sans")
        .attr("x", 45).attr("y", i * 25 + 12)
        .attr("font-size", 16).text(item.label);
});
</script>
</body>
</html>
